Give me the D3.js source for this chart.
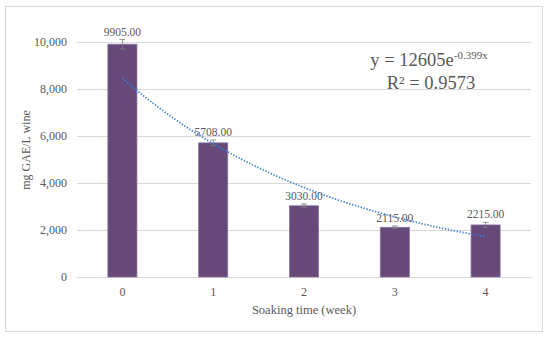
<!DOCTYPE html>
<html><head><meta charset="utf-8">
<script src="https://cdn.jsdelivr.net/npm/d3@7"></script>
<style>body{margin:0;background:#fff}svg text{font-family:"Liberation Serif","DejaVu Serif",serif;fill:#595959}</style>
</head><body>
<svg id="c" width="550" height="340"></svg>
<script>
const categories = ["0","1","2","3","4"];
const values = [9905, 5708, 3030, 2115, 2215];
const errors = [200, 120, 80, 60, 110];
const yTicks = [0, 2000, 4000, 6000, 8000, 10000];
const trendA = 12605, trendB = -0.399;

const svg = d3.select("#c");
svg.append("rect").attr("x",5.5).attr("y",6.5).attr("width",537).attr("height",325)
  .attr("fill","#fff").attr("stroke","#d9d9d9");

const m = {l:77, r:531, t:42, b:277};
const x = d3.scaleBand().domain(categories).range([m.l, m.r]).paddingInner(0.68).paddingOuter(0.34);
const y = d3.scaleLinear().domain([0,10000]).range([m.b, m.t]);

const fmt = d3.format(",");
const ya = svg.append("g").attr("transform",`translate(${m.l},0)`)
  .call(d3.axisLeft(y).tickValues(yTicks).tickSize(-(m.r-m.l)).tickFormat(fmt).tickPadding(10));
ya.select(".domain").remove();
ya.selectAll("line").attr("stroke","#d9d9d9");
ya.selectAll("text").attr("font-size","12px").style("font-family","Liberation Serif, serif").attr("fill","#595959");

const xa = svg.append("g").attr("transform",`translate(0,${m.b})`)
  .call(d3.axisBottom(x).tickSize(0).tickPadding(10));
xa.select(".domain").attr("stroke","#d9d9d9");
xa.selectAll("text").attr("font-size","12px").style("font-family","Liberation Serif, serif").attr("fill","#595959");

svg.selectAll(".bar").data(values).join("rect")
  .attr("x",(d,i)=>x(categories[i])).attr("width",x.bandwidth())
  .attr("y",d=>y(d)).attr("height",d=>y(0)-y(d))
  .attr("fill","#664979").attr("stroke","#8a74a0").attr("stroke-width",0.8);

const eb = svg.append("g").attr("stroke","#7f7f7f").attr("stroke-width",0.8);
values.forEach((v,i)=>{
  const cx = x(categories[i]) + x.bandwidth()/2;
  eb.append("line").attr("x1",cx).attr("x2",cx).attr("y1",y(v-errors[i])).attr("y2",y(v+errors[i]));
  eb.append("line").attr("x1",cx-3).attr("x2",cx+3).attr("y1",y(v+errors[i])).attr("y2",y(v+errors[i]));
  eb.append("line").attr("x1",cx-3).attr("x2",cx+3).attr("y1",y(v-errors[i])).attr("y2",y(v-errors[i]));
});

// trendline
const xs = d3.scaleLinear().domain([1,5]).range([x("0")+x.bandwidth()/2, x("4")+x.bandwidth()/2]);
const pts = d3.range(0,101).map(k=>{const t=1+4*k/100; return [xs(t), y(trendA*Math.exp(trendB*t))];});
svg.append("path").attr("d",d3.line()(pts)).attr("fill","none")
  .attr("stroke","#3a7fd5").attr("stroke-width",1.8).attr("stroke-dasharray","1.3,1.7");

svg.selectAll(".lbl").data(values).join("text")
  .attr("x",(d,i)=>x(categories[i])+x.bandwidth()/2).attr("y",(d,i)=>y(d+errors[i])-4)
  .attr("text-anchor","middle").attr("font-size","11.5px").text(d=>d3.format(".2f")(d));

const eq = svg.append("text").attr("x",429).attr("y",66).attr("text-anchor","middle").attr("font-size","18.5px");
eq.append("tspan").text("y = 12605e");
eq.append("tspan").attr("dy",-7).attr("font-size","11px").text("-0.399x");
svg.append("text").attr("x",431).attr("y",89).attr("text-anchor","middle").attr("font-size","18.5px").text("R² = 0.9573");

svg.append("text").attr("x",304).attr("y",314).attr("text-anchor","middle").attr("font-size","12.5px").text("Soaking time (week)");
svg.append("text").attr("transform","translate(30,150) rotate(-90)").attr("text-anchor","middle").attr("font-size","12px").text("mg GAE/L wine");
</script>
</body></html>
